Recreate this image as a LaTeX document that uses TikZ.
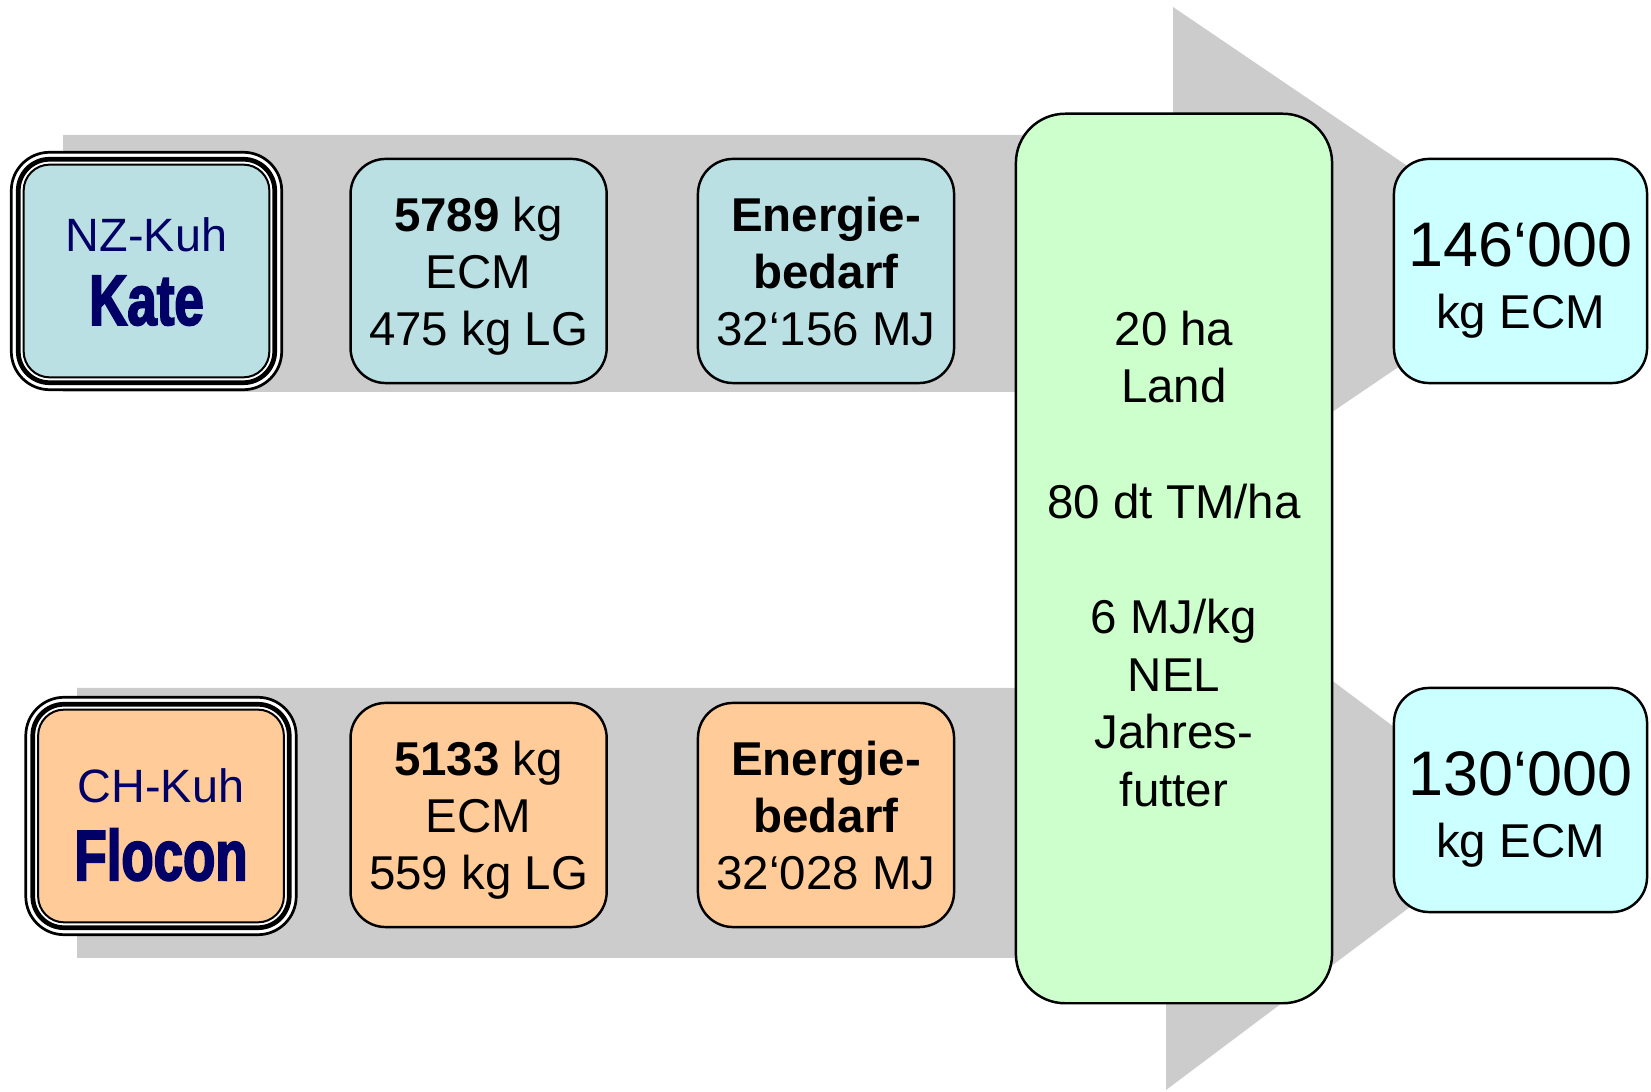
\documentclass[tikz,border=0pt]{standalone}
\usepackage{fontspec}
\setmainfont{Liberation Sans}
\newfontfamily\heavyfont[FakeStretch=0.74, FakeBold=2.5]{Liberation Sans}
\usepackage{xcolor}
\usetikzlibrary{calc, backgrounds}

\definecolor{bandgray}{HTML}{CCCCCC}
\definecolor{nzblue}{HTML}{BBE0E3}
\definecolor{chorange}{HTML}{FFCC99}
\definecolor{landgreen}{HTML}{CCFFCC}
\definecolor{milkcyan}{HTML}{CCFFFF}
\definecolor{cownavy}{HTML}{000066}

\begin{document}
\begin{tikzpicture}[x=0.01cm, y=-0.01cm,
  every node/.style={align=center, inner sep=0pt, outer sep=0pt, text depth=0pt},
  cowbox/.style={draw, line width=0.57pt, rounded corners=7.4pt,
    minimum width=2.456cm, minimum height=2.126cm, text=cownavy,
    font=\fontsize{13.3pt}{21pt}\selectfont},
  infobox/.style={draw, line width=0.7pt, rounded corners=10pt,
    minimum width=2.56cm, minimum height=2.24cm,
    font=\fontsize{13.5pt}{16.2pt}\selectfont},
  landbox/.style={draw, line width=0.7pt, rounded corners=14pt, fill=landgreen,
    minimum width=3.16cm, minimum height=8.89cm,
    font=\fontsize{13.5pt}{16.4pt}\selectfont},
  milkbox/.style={draw, line width=0.7pt, rounded corners=10pt, fill=milkcyan,
    minimum width=2.53cm, minimum height=2.24cm,
    font=\fontsize{13.5pt}{17.5pt}\selectfont}]
  \useasboundingbox (0,0) rectangle (1651,1092);

  % Cows
  \node[cowbox, fill=nzblue] (kate) at (146.5,271)
    {NZ-Kuh\\{\heavyfont\bfseries\fontsize{20.3pt}{21pt}\selectfont Kate}};
  \node[cowbox, fill=chorange] (flocon) at (161,816)
    {\rule{0pt}{14.3pt}CH-Kuh\\[1.2pt]{\heavyfont\bfseries\fontsize{20.3pt}{22pt}\selectfont Flocon}};

  % Milk and energy per cow
  \node[infobox, fill=nzblue] (katemilk) at (478.6,271)
    {\textbf{5789} kg\\ECM\\475 kg LG};
  \node[infobox, fill=nzblue] (kateenergy) at (826,271)
    {\textbf{Energie-}\\\textbf{bedarf}\\32‘156 MJ};
  \node[infobox, fill=chorange] (flocmilk) at (478.6,815)
    {\textbf{5133} kg\\ECM\\559 kg LG};
  \node[infobox, fill=chorange] (flocenergy) at (826,815)
    {\textbf{Energie-}\\\textbf{bedarf}\\32‘028 MJ};

  % Land
  \node[landbox] (land) at (1174,558.5)
    {20 ha\\Land\\~\\80 dt TM/ha\\~\\6 MJ/kg\\NEL\\Jahres-\\futter};

  % Output
  \node[milkbox] (katetotal) at (1520.5,271)
    {\rule{0pt}{15.1pt}{\fontsize{17.9pt}{17.5pt}\selectfont 146‘000}\\kg ECM};
  \node[milkbox] (floctotal) at (1520.5,800)
    {\rule{0pt}{15.1pt}{\fontsize{17.9pt}{17.5pt}\selectfont 130‘000}\\kg ECM};

  \begin{scope}[on background layer]
    % Gray block arrows
    \fill[bandgray] (63,135) -- (1173,135) -- (1173,7) -- (1551,263.5)
      -- (1173,520) -- (1173,392) -- (63,392) -- cycle;
    \fill[bandgray] (77,688) -- (1166,688) -- (1166,556) -- (1522,823)
      -- (1166,1090) -- (1166,958) -- (77,958) -- cycle;

    % Frames round the cows
    \foreach \cow in {kate, flocon} {
      \draw[line width=0.77pt, fill=white, rounded corners=10.9pt]
        ($(\cow.north west)+(-12.35,-12.35)$) rectangle ($(\cow.south east)+(12.35,12.35)$);
      \draw[line width=1.34pt, rounded corners=8.9pt]
        ($(\cow.north west)+(-5.35,-5.35)$) rectangle ($(\cow.south east)+(5.35,5.35)$);
    }
  \end{scope}

\end{tikzpicture}
\end{document}
